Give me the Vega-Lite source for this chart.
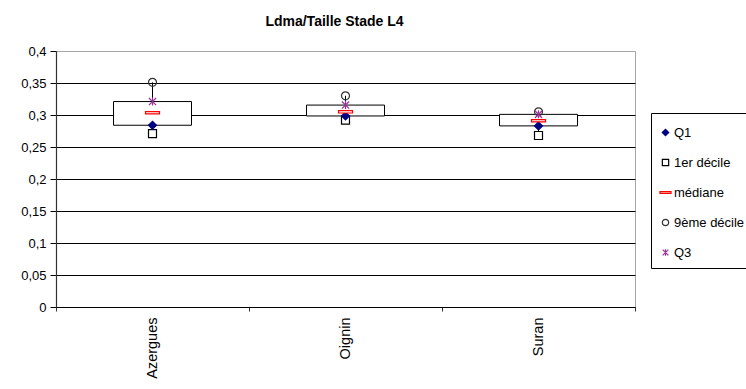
{
  "$schema": "https://vega.github.io/schema/vega-lite/v6.json",
  "autosize": {"type": "none"},
  "padding": {"left": 56, "top": 51, "right": 111, "bottom": 82},
  "width": 579,
  "height": 256,
  "background": "white",
  "title": {
    "text": "Ldma/Taille Stade L4",
    "font": "Liberation Sans",
    "fontSize": 14,
    "fontWeight": "bold",
    "color": "black",
    "anchor": "middle",
    "frame": "group",
    "baseline": "alphabetic",
    "offset": 5,
    "dx": -11
  },
  "config": {
    "view": {"stroke": "#a6a6a6", "strokeWidth": 1},
    "font": "Liberation Sans",
    "axisY": {
      "title": null,
      "labelFontSize": 13,
      "labelColor": "black",
      "labelPadding": 4,
      "tickSize": 6,
      "tickColor": "black",
      "domainColor": "#333333",
      "domainWidth": 1.2,
      "grid": true,
      "gridWidth": 1,
      "gridOpacity": 1
    }
  },
  "data": {
    "values": [
      {"site": "Azergues", "D1": 0.271, "Q1": 0.284, "Med": 0.3035, "Q3": 0.321, "D9": 0.351},
      {"site": "Oignin", "D1": 0.292, "Q1": 0.2985, "Med": 0.305, "Q3": 0.3155, "D9": 0.330},
      {"site": "Suran", "D1": 0.268, "Q1": 0.283, "Med": 0.291, "Q3": 0.301, "D9": 0.305}
    ]
  },
  "encoding": {
    "x": {
      "field": "site",
      "type": "nominal",
      "sort": null,
      "scale": {"paddingInner": 0, "paddingOuter": 0},
      "axis": {
        "title": null,
        "labelAngle": -90,
        "labelFontSize": 14.5,
        "labelColor": "black",
        "labelPadding": 6,
        "tickBand": "extent",
        "tickSize": 4,
        "tickColor": "#333333",
        "domainColor": "black",
        "domainWidth": 1.2
      }
    }
  },
  "layer": [
    {
      "mark": {"type": "rule", "color": "black", "strokeWidth": 1},
      "encoding": {
        "y": {
          "field": "D1",
          "type": "quantitative",
          "scale": {"domain": [0, 0.4], "nice": false, "zero": true},
          "axis": {
            "title": null,
            "values": [0, 0.05, 0.1, 0.15, 0.2, 0.25, 0.3, 0.35, 0.4],
            "labelExpr": "replace(format(datum.value, '.2~f'), '.', ',')",
            "gridColor": {"condition": {"test": "datum.value >= 0.4", "value": "#a6a6a6"}, "value": "black"}
          }
        },
        "y2": {"field": "D9"}
      }
    },
    {
      "mark": {"type": "bar", "fill": "white", "stroke": "black", "strokeWidth": 1, "size": 78},
      "encoding": {
        "y": {
          "field": "Q1",
          "type": "quantitative",
          "axis": {
            "title": null,
            "values": [0, 0.05, 0.1, 0.15, 0.2, 0.25, 0.3, 0.35, 0.4],
            "labelExpr": "replace(format(datum.value, '.2~f'), '.', ',')",
            "gridColor": {"condition": {"test": "datum.value >= 0.4", "value": "#a6a6a6"}, "value": "black"}
          }
        },
        "y2": {"field": "Q3"}
      }
    },
    {
      "transform": [
        {"fold": ["D1", "Q1", "Med", "D9", "Q3"], "as": ["stat", "value"]}
      ],
      "mark": {"type": "point", "size": 64, "strokeWidth": 1.2, "opacity": 1},
      "encoding": {
        "y": {
          "field": "value",
          "type": "quantitative",
          "axis": {
            "title": null,
            "values": [0, 0.05, 0.1, 0.15, 0.2, 0.25, 0.3, 0.35, 0.4],
            "labelExpr": "replace(format(datum.value, '.2~f'), '.', ',')",
            "gridColor": {"condition": {"test": "datum.value >= 0.4", "value": "#a6a6a6"}, "value": "black"}
          }
        },
        "shape": {
          "field": "stat",
          "type": "nominal",
          "scale": {
            "domain": ["Q1", "D1", "Med", "D9", "Q3"],
            "range": [
              "diamond",
              "square",
              "M-1.75,-0.3H1.75V0.3H-1.75Z",
              "circle",
              "M-0.9,-0.9L0.9,0.9M-0.9,0.9L0.9,-0.9M0,-1L0,1"
            ]
          },
          "legend": {
            "title": " ",
            "titleFontSize": 3,
            "titlePadding": 2,
            "orient": "none",
            "legendX": 595,
            "legendY": 62,
            "strokeColor": "black",
            "fillColor": "white",
            "padding": 8,
            "rowPadding": 16,
            "symbolSize": 40,
            "symbolStrokeWidth": 1.2,
            "labelFontSize": 13,
            "labelColor": "black",
            "labelOffset": 2,
            "labelExpr": "{'Q1': 'Q1', 'D1': '1er décile', 'Med': 'médiane', 'D9': '9ème décile', 'Q3': 'Q3'}[datum.label]"
          }
        },
        "stroke": {
          "field": "stat",
          "type": "nominal",
          "scale": {
            "domain": ["Q1", "D1", "Med", "D9", "Q3"],
            "range": ["#000080", "#000000", "#ff0000", "#333333", "#993399"]
          }
        },
        "fill": {
          "field": "stat",
          "type": "nominal",
          "scale": {
            "domain": ["Q1", "D1", "Med", "D9", "Q3"],
            "range": ["#000080", "#ffffff", "#ffffff", "transparent", "transparent"]
          }
        }
      }
    }
  ]
}
